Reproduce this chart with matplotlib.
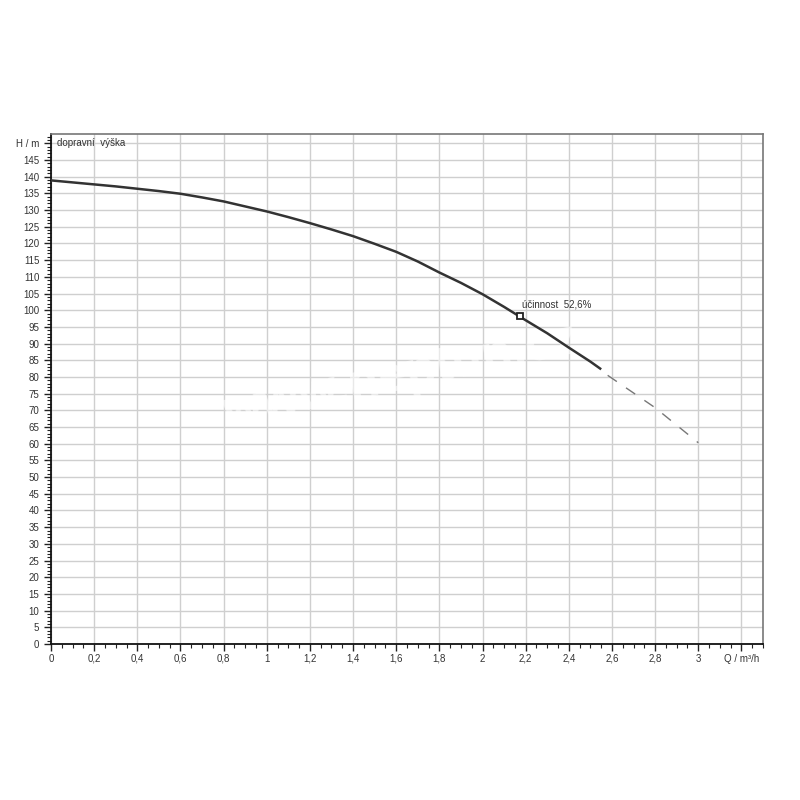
import matplotlib.pyplot as plt
from matplotlib.ticker import MultipleLocator, FuncFormatter

# pump curve H(Q)
q_solid = [0.0, 0.1, 0.2, 0.3, 0.4, 0.5, 0.6, 0.7, 0.8, 0.9, 1.0, 1.1, 1.2, 1.3, 1.4,
           1.5, 1.6, 1.7, 1.8, 1.9, 2.0, 2.1, 2.2, 2.3, 2.4, 2.5, 2.55]
h_solid = [138.9, 138.3, 137.7, 137.1, 136.4, 135.7, 134.9, 133.8, 132.6, 131.1, 129.6, 127.9,
           126.1, 124.2, 122.2, 119.9, 117.5, 114.6, 111.3, 108.2, 104.8, 101.0, 97.0, 93.1,
           88.8, 84.6, 82.3]
q_dash = [2.58, 2.8, 3.0]
h_dash = [80.5, 70.8, 60.3]
q_eff, h_eff = 2.173, 98.2
eff_label = "účinnost  52,6%"
y_label = "H / m"
x_label = "Q / m³/h"
curve_label = "dopravní  výška"
watermark = "www.neptun.cz"

plt.rcParams["font.family"] = ["Liberation Sans", "DejaVu Sans"]

fig = plt.figure(figsize=(8, 8), dpi=100)
ax = fig.add_axes([0.06375, 0.195, 0.89, 0.6375])

ax.plot(q_solid, h_solid, color="#333333", lw=1.8, solid_capstyle="butt", zorder=3)
ax.plot(q_dash, h_dash, color="#777777", lw=1.0, ls=(0, (8, 8)), zorder=3)
ax.plot([q_eff], [h_eff], marker="s", ms=5, mfc="white", mec="#222222", mew=1.3, ls="none", zorder=4)
ax.text(q_eff + 0.01, h_eff + 2.0, eff_label, fontsize=7, color="#333333", va="bottom", ha="left")
ax.text(0.03, 150, curve_label, fontsize=7, color="#333333", va="center", ha="left")

# faint watermark, drawn over the grid
ax.text(1.62, 80, watermark, fontsize=36, fontweight="bold", color="white", alpha=0.55,
        rotation=12, ha="center", va="center", zorder=2)

ax.set_xlim(0, 3.3)
ax.set_ylim(0, 152.8)
ax.xaxis.set_major_locator(MultipleLocator(0.2))
ax.xaxis.set_minor_locator(MultipleLocator(0.05))
ax.yaxis.set_major_locator(MultipleLocator(5))
ax.yaxis.set_minor_locator(MultipleLocator(1))


def xfmt(v, pos):
    if abs(v - 3.2) < 1e-6:
        return x_label
    if abs(v - round(v)) < 1e-6:
        return f"{int(round(v))}"
    return f"{v:.1f}".replace(".", ",")


def yfmt(v, pos):
    if abs(v - 150) < 1e-6:
        return y_label
    return f"{int(round(v))}"


ax.xaxis.set_major_formatter(FuncFormatter(xfmt))
ax.yaxis.set_major_formatter(FuncFormatter(yfmt))
ax.tick_params(which="major", length=5, width=1, labelsize=7, colors="#222222", labelcolor="#333333")
ax.tick_params(which="minor", length=3, width=0.8, colors="#222222")
ax.tick_params(axis="x", pad=2)
ax.grid(which="major", color="#cfcfcf", lw=1.0, zorder=1)
ax.set_axisbelow(True)

for s in ("left", "bottom"):
    ax.spines[s].set_color("#111111")
    ax.spines[s].set_linewidth(1.3)
for s in ("top", "right"):
    ax.spines[s].set_color("#777777")
    ax.spines[s].set_linewidth(1.2)

fig.savefig("out.png", dpi=100, facecolor="white")
